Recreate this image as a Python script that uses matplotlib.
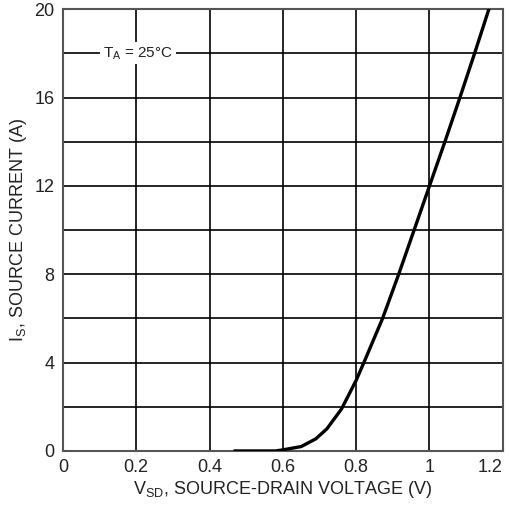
import numpy as np
import matplotlib
matplotlib.use('Agg')
import matplotlib.pyplot as plt

plt.rcParams['font.family'] = ['Liberation Sans', 'DejaVu Sans']

# Source-drain diode forward characteristic
vsd = [0.47, 0.58, 0.60, 0.65, 0.69, 0.72, 0.76, 0.80, 0.821, 0.872,
       0.916, 0.958, 1.00, 1.042, 1.083, 1.123, 1.162]
i_s = [0.0, 0.0, 0.05, 0.2, 0.55, 1.0, 1.9, 3.2, 4.0, 6.0,
       8.0, 10.0, 12.0, 14.0, 16.0, 18.0, 20.0]

x_ticks = [0, 0.2, 0.4, 0.6, 0.8, 1.0, 1.2]
x_tick_labels = ['0', '0.2', '0.4', '0.6', '0.8', '1', '1.2']
y_ticks = [0, 4, 8, 12, 16, 20]

fig = plt.figure(figsize=(5.11, 5.09), dpi=100)
ax = fig.add_axes([0.123, 0.114, 0.861, 0.868])

# grid: vertical every 0.2 V, horizontal every 2 A
for xv in np.arange(0.2, 1.2, 0.2):
    ax.axvline(xv, color='black', lw=1.2, zorder=1)
for yv in np.arange(2, 20, 2):
    ax.axhline(yv, color='black', lw=1.2, zorder=1)

ax.plot(vsd, i_s, color='black', lw=2.4, zorder=3, solid_joinstyle='round')

ax.set_xlim(0, 1.2)
ax.set_ylim(0, 20)
ax.set_xticks(x_ticks)
ax.set_xticklabels(x_tick_labels)
ax.set_yticks(y_ticks)
ax.tick_params(length=0, labelsize=13, colors='#222222', pad=6)
# last x label pulled in so it stays inside the figure
lbls = ax.get_xticklabels()
lbls[-1].set_horizontalalignment('right')
lbls[-1].set_x(1.2)
for s in ax.spines.values():
    s.set_color('#555555')
    s.set_linewidth(1.5)

ax.set_xlabel('V$_{\\mathregular{SD}}$, SOURCE-DRAIN VOLTAGE (V)', fontsize=13,
              color='#222222', labelpad=2)
ax.set_ylabel('I$_{\\mathregular{S}}$, SOURCE CURRENT (A)', fontsize=13,
              color='#222222', labelpad=4)

ax.text(0.205, 18, 'T$_{\\mathregular{A}}$ = 25°C', fontsize=11, color='#222222',
        ha='center', va='center', zorder=4,
        bbox=dict(facecolor='white', edgecolor='none', pad=2))

fig.savefig('out.png', dpi=100)
